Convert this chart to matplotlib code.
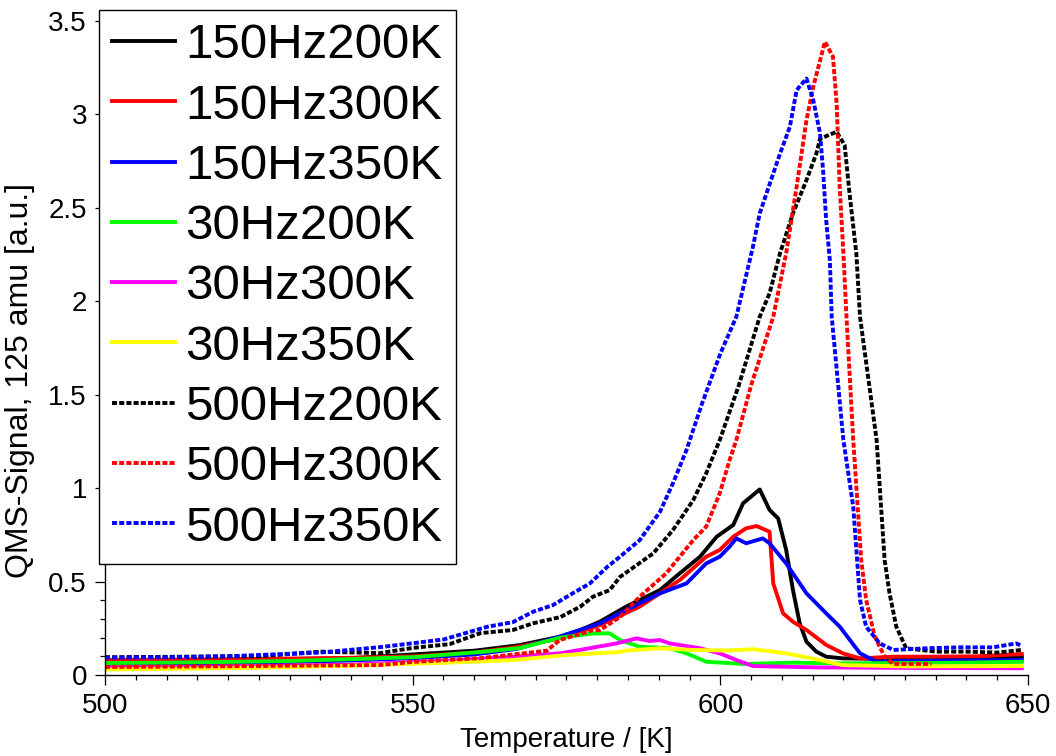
import matplotlib
matplotlib.use("Agg")
import matplotlib.pyplot as plt
from matplotlib.ticker import MultipleLocator

plt.rcParams['font.family'] = ['Liberation Sans', 'DejaVu Sans']

# temperatures [K] and QMS signal [a.u.]
t_150_200 = [500, 510, 520, 530, 540, 550, 560, 567.4, 573.9, 577.2, 580.4, 584.7, 590.2, 593.4, 596.7,
             599.4, 602.1, 603.7, 606.4, 608, 609.4, 610.7, 611.8, 612.9, 614, 615.6, 617.2, 619.9, 630, 640, 649]
v_150_200 = [0.07, 0.075, 0.08, 0.085, 0.09, 0.11, 0.13, 0.16, 0.205, 0.24, 0.285, 0.366, 0.455, 0.544, 0.633,
             0.74, 0.803, 0.919, 0.993, 0.883, 0.838, 0.669, 0.455, 0.276, 0.178, 0.125, 0.098, 0.089, 0.085, 0.086, 0.098]

t_150_300 = [500, 510, 520, 530, 540, 550, 560, 567, 573.9, 577, 580.4, 586.9, 593.4, 597.7, 599.9, 602.1,
             604.2, 605.9, 608, 608.6, 610.2, 611.8, 614, 617.2, 619.9, 622.7, 628.1, 635, 642, 649]
v_150_300 = [0.08, 0.082, 0.085, 0.088, 0.092, 0.1, 0.12, 0.15, 0.196, 0.23, 0.267, 0.366, 0.508, 0.633, 0.669, 0.74,
             0.785, 0.797, 0.767, 0.49, 0.33, 0.285, 0.241, 0.161, 0.116, 0.089, 0.098, 0.098, 0.1, 0.112]

t_150_350 = [500, 510, 520, 530, 540, 550, 560, 567, 573.9, 580.4, 586.9, 590.2, 594.5, 597.7, 599.9, 601.5,
             602.6, 604.2, 606.9, 608, 610.7, 614, 617.2, 619.4, 622.7, 625.4, 630, 640, 649]
v_150_350 = [0.06, 0.062, 0.065, 0.07, 0.078, 0.09, 0.11, 0.14, 0.205, 0.276, 0.384, 0.437, 0.49, 0.597, 0.633, 0.687,
             0.731, 0.705, 0.731, 0.705, 0.597, 0.437, 0.33, 0.259, 0.116, 0.071, 0.075, 0.078, 0.08]

t_30_200 = [500, 510, 520, 530, 540, 544.7, 550, 561, 567.4, 574, 579.3, 582, 583.7, 586.9, 591.8, 594.5,
            597.7, 603.7, 611.8, 620, 630, 640, 649]
v_30_200 = [0.064, 0.066, 0.07, 0.075, 0.085, 0.09, 0.095, 0.123, 0.144, 0.2, 0.222, 0.223, 0.187, 0.151, 0.143,
            0.116, 0.071, 0.059, 0.066, 0.062, 0.064, 0.066, 0.071]

t_30_300 = [500, 510, 520, 530, 540, 544.7, 555, 566.3, 574, 581.6, 583.1, 586.4, 588.5, 590.2, 591.8, 596.7,
            599.9, 602.6, 605.3, 615, 630, 649]
v_30_300 = [0.04, 0.042, 0.045, 0.05, 0.055, 0.062, 0.075, 0.097, 0.116, 0.16, 0.169, 0.196, 0.182, 0.187, 0.169,
            0.143, 0.116, 0.08, 0.048, 0.041, 0.038, 0.036]

t_30_350 = [500, 510, 520, 530, 540, 544.7, 555, 566.3, 575, 583.7, 584.7, 590.2, 595.6, 601, 605.3, 610.7,
            616.2, 619.9, 630, 649]
v_30_350 = [0.03, 0.033, 0.037, 0.042, 0.05, 0.055, 0.065, 0.08, 0.107, 0.123, 0.131, 0.143, 0.134, 0.131, 0.138,
            0.116, 0.08, 0.053, 0.046, 0.048]

t_500_200 = [500, 510, 520, 525, 535, 544.7, 550, 556, 561, 566.3, 569.6, 574, 577.2, 579.3, 582, 583.7,
             589.1, 592.3, 595.6, 597.7, 599.9, 603, 606.4, 608, 609.7, 611.8, 614, 615.6, 616.2, 618.9, 620.2,
             621, 622.1, 622.7, 625.4, 626.7, 627.5, 628.6, 630.2, 635, 640, 645, 649]
v_500_200 = [0.095, 0.097, 0.1, 0.1, 0.125, 0.117, 0.145, 0.165, 0.224, 0.241, 0.277, 0.31, 0.365, 0.419, 0.454, 0.525,
             0.651, 0.776, 0.936, 1.079, 1.257, 1.55, 1.917, 2.043, 2.257, 2.47, 2.649, 2.79, 2.87, 2.907, 2.836,
             2.577, 2.257, 1.917, 1.257, 0.615, 0.437, 0.258, 0.143, 0.125, 0.125, 0.12, 0.134]

t_500_300 = [500, 510, 520, 530, 540, 544.7, 550, 561, 571.8, 573.9, 579.3, 580.4, 583.7, 586.9, 591.2, 595.6,
             597.7, 599.9, 601.5, 602.6, 605, 608.6, 610.7, 612.4, 614, 615.1, 617, 618.3, 618.9, 619.4, 620,
             620.5, 621.6, 622.9, 623.7, 625.1, 626.7, 628.1, 634.3]
v_500_300 = [0.043, 0.045, 0.047, 0.05, 0.052, 0.053, 0.07, 0.09, 0.13, 0.187, 0.24, 0.24, 0.31, 0.419, 0.544, 0.722,
             0.794, 0.972, 1.15, 1.257, 1.55, 1.917, 2.257, 2.613, 2.97, 3.148, 3.389, 3.309, 3.059, 2.613, 2.257,
             1.917, 1.257, 0.615, 0.401, 0.205, 0.098, 0.059, 0.059]

t_500_350 = [500, 510, 520, 525, 535, 545, 550, 555, 562.1, 566.3, 569.6, 572.8, 576, 578.8, 581.6, 583.7,
             586.9, 590.2, 592.3, 594.5, 597, 600, 602.6, 605.3, 606.4, 608.6, 609.7, 611.3, 612.4, 614, 615.1,
             616.2, 616.7, 617.2, 617.8, 618.1, 620, 621.6, 622.7, 623.7, 625.9, 628.1, 633.5, 638.9, 644.3, 648.1, 649]
v_500_350 = [0.093, 0.095, 0.1, 0.107, 0.12, 0.15, 0.17, 0.19, 0.258, 0.283, 0.339, 0.374, 0.437, 0.49, 0.578, 0.633,
             0.722, 0.874, 1.026, 1.204, 1.45, 1.72, 1.917, 2.292, 2.47, 2.684, 2.79, 2.934, 3.13, 3.192, 3.077,
             2.899, 2.7, 2.434, 2.22, 1.917, 1.257, 0.9, 0.401, 0.258, 0.169, 0.134, 0.143, 0.148, 0.148, 0.169, 0.155]

labels = ['150Hz200K', '150Hz300K', '150Hz350K', '30Hz200K', '30Hz300K', '30Hz350K',
          '500Hz200K', '500Hz300K', '500Hz350K']
temps = [t_150_200, t_150_300, t_150_350, t_30_200, t_30_300, t_30_350, t_500_200, t_500_300, t_500_350]
signals = [v_150_200, v_150_300, v_150_350, v_30_200, v_30_300, v_30_350, v_500_200, v_500_300, v_500_350]
colors = ['#000000', '#ff0000', '#0000ff', '#00ff00', '#ff00ff', '#ffff00', '#000000', '#ff0000', '#0000ff']
dotted = (0, (1.3, 0.55))
styles = ['-'] * 6 + [dotted] * 3

fig = plt.figure(figsize=(10.56, 7.56), dpi=100)
ax = fig.add_axes([105 / 1056, 1 - 675 / 756, 923 / 1056, 654 / 756])

for t, v, c, ls, lab in zip(temps, signals, colors, styles, labels):
    ax.plot(t, v, color=c, linestyle=ls, linewidth=2.8, label=lab)

ax.set_xlim(500, 650)
ax.set_ylim(0, 3.5)
ax.xaxis.set_major_locator(MultipleLocator(50))
ax.xaxis.set_minor_locator(MultipleLocator(5))
ax.yaxis.set_major_locator(MultipleLocator(0.5))
ax.yaxis.set_minor_locator(MultipleLocator(0.1))
ax.yaxis.set_major_formatter(plt.FuncFormatter(lambda y, p: f"{y:g}"))

for side in ['top', 'right']:
    ax.spines[side].set_visible(False)
for side in ['left', 'bottom']:
    ax.spines[side].set_linewidth(1.0)

ax.tick_params(which='major', direction='out', length=7, width=0.9, labelsize=20, pad=6)
ax.tick_params(which='minor', direction='out', length=3.5, width=0.9)

ax.set_xlabel('Temperature / [K]', fontsize=20)
ax.set_ylabel('QMS-Signal, 125 amu [a.u.]', fontsize=23)
ax.xaxis.set_label_coords(0.5, -0.08)
ax.yaxis.set_label_coords(-0.076, 0.451)

leg = fig.legend(loc='upper left', bbox_to_anchor=(99 / 1056, 1 - 10 / 756), fontsize=35.5,
                 handlelength=1.28, handletextpad=0.2, labelspacing=0.31, borderpad=0.27,
                 borderaxespad=0, fancybox=False, framealpha=1, edgecolor='black')
leg.get_frame().set_linewidth(1.0)

fig.savefig('out.png', dpi=100)
